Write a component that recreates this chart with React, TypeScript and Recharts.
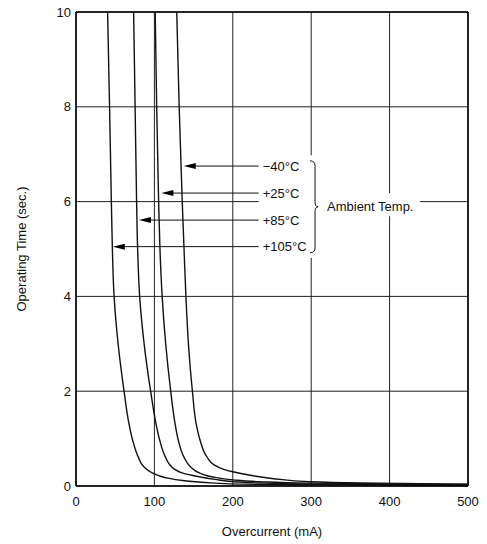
import React from 'react';
import {
  LineChart,
  Line,
  XAxis,
  YAxis,
  CartesianGrid,
  ReferenceLine,
  ReferenceDot,
  ReferenceArea,
} from 'recharts';

// overcurrent (mA) / operating time (sec.) per ambient temperature
const currentM40 = [128.5, 131.6, 135.5, 137.8, 140.2, 143.4, 148.5, 153.4, 158.2, 166.8, 175.7, 188.5, 200, 232, 266.5, 298.4, 362.3, 439, 500];
const timeM40 = [10, 8, 6, 5, 4, 3, 2, 1.3, 0.97, 0.62, 0.45, 0.35, 0.3, 0.2, 0.13, 0.09, 0.065, 0.05, 0.04];

const currentP25 = [101, 102.9, 105.4, 107.1, 109.9, 114.4, 120.8, 126.5, 130.4, 137.4, 145.7, 157.9, 174.5, 200, 234.5, 298.4, 400.6, 500];
const timeP25 = [10, 8, 6, 5, 4, 3, 2, 1.3, 0.97, 0.62, 0.41, 0.27, 0.19, 0.13, 0.09, 0.06, 0.045, 0.035];

const currentP85 = [73.5, 75.4, 77.3, 78.6, 81.2, 86.9, 95.2, 102.2, 106.7, 113.8, 119.5, 125.9, 136.1, 155.3, 177, 202.6, 241, 311, 413, 500];
const timeP85 = [10, 8, 6, 5, 4, 3, 2, 1.3, 0.97, 0.62, 0.45, 0.35, 0.27, 0.2, 0.14, 0.09, 0.06, 0.04, 0.028, 0.02];

const currentP105 = [40.3, 42.8, 45.1, 46.4, 48.6, 53.7, 61.3, 67.7, 72.2, 79.2, 86.3, 97.8, 113.1, 138.7, 177, 209, 298, 500];
const timeP105 = [10, 8, 6, 5, 4, 3, 2, 1.3, 0.97, 0.62, 0.41, 0.27, 0.18, 0.11, 0.06, 0.04, 0.025, 0.015];

const xTicks = [0, 100, 200, 300, 400, 500];
const yTicks = [0, 2, 4, 6, 8, 10];

// annotation: label, y level, arrow tip current
const tempLabels = ['\u221240\u00b0C', '+25\u00b0C', '+85\u00b0C', '+105\u00b0C'];
const tempLevels = [6.75, 6.18, 5.61, 5.05];
const arrowTips = [137.4, 108.9, 80.3, 47];
const arrowEnd = 233;

const toPoints = (xs: number[], ys: number[]) => xs.map((x, i) => ({ x, y: ys[i] }));

const series = [
  { key: 'm40', data: toPoints(currentM40, timeM40) },
  { key: 'p25', data: toPoints(currentP25, timeP25) },
  { key: 'p85', data: toPoints(currentP85, timeP85) },
  { key: 'p105', data: toPoints(currentP105, timeP105) },
];

const FONT = '"Liberation Sans", Arial, sans-serif';
const tickStyle = { fontFamily: FONT, fontSize: 13, fill: '#111' };

const arrowHead = (props: any) => (
  <polygon
    points={`${props.cx},${props.cy} ${props.cx + 12},${props.cy - 3} ${props.cx + 12},${props.cy + 3}`}
    fill="#000"
  />
);

const tempText = (text: string) => (props: any) => (
  <text x={props.cx + 4} y={props.cy} dominantBaseline="central" fontFamily={FONT} fontSize={13} fill="#111">
    {text}
  </text>
);

const brace = (props: any) => {
  const { cx, cy } = props;
  const d = `M ${cx - 8} ${cy - 46} Q ${cx - 3} ${cy - 46} ${cx - 3} ${cy - 41} L ${cx - 3} ${cy - 5} Q ${cx - 3} ${cy} ${cx} ${cy} Q ${cx - 3} ${cy} ${cx - 3} ${cy + 5} L ${cx - 3} ${cy + 41} Q ${cx - 3} ${cy + 46} ${cx - 8} ${cy + 46}`;
  return (
    <g>
      <path d={d} fill="none" stroke="#111" strokeWidth={1} />
      <text x={cx + 9} y={cy} dominantBaseline="central" fontFamily={FONT} fontSize={13} fill="#111">
        Ambient Temp.
      </text>
    </g>
  );
};

const yLabel = (props: any) => {
  const vb = props.viewBox || { x: 0, y: 12, width: 76, height: 474 };
  const cx = 21;
  const cy = vb.y + vb.height / 2;
  return (
    <text x={cx} y={cy} transform={`rotate(-90 ${cx} ${cy})`} textAnchor="middle" dominantBaseline="central"
      fontFamily={FONT} fontSize={13} fill="#111">
      Operating Time (sec.)
    </text>
  );
};

const xLabel = (props: any) => {
  const vb = props.viewBox || { x: 76, y: 486, width: 392, height: 58 };
  return (
    <text x={vb.x + vb.width / 2} y={vb.y + 45.5} textAnchor="middle" dominantBaseline="central"
      fontFamily={FONT} fontSize={13} fill="#111">
      Overcurrent (mA)
    </text>
  );
};

export default function App() {
  return (
    <div style={{ position: 'absolute', left: 0, top: 0, background: '#fff' }}>
      <LineChart width={487} height={544} margin={{ top: 12, right: 19, bottom: 0, left: 0 }}>
        <CartesianGrid stroke="#222" strokeWidth={1} />
        <XAxis
          type="number"
          dataKey="x"
          domain={[0, 500]}
          ticks={xTicks}
          allowDataOverflow
          height={58}
          tick={tickStyle}
          tickLine={false}
          tickSize={0}
          tickMargin={11}
          axisLine={{ stroke: '#000', strokeWidth: 1.5 }}
          label={{ content: xLabel }}
        />
        <YAxis
          type="number"
          dataKey="y"
          domain={[0, 10]}
          ticks={yTicks}
          allowDataOverflow
          width={76}
          tick={tickStyle}
          tickLine={false}
          tickSize={0}
          tickMargin={5}
          axisLine={{ stroke: '#000', strokeWidth: 1.5 }}
          label={{ content: yLabel }}
        />
        <ReferenceLine y={10} stroke="#000" strokeWidth={1.5} />
        <ReferenceLine x={500} stroke="#000" strokeWidth={1.5} />
        <ReferenceArea x1={233} x2={313.8} y1={4.81} y2={6.98} fill="#fff" fillOpacity={1} stroke="none" />
        <ReferenceArea x1={313.8} x2={439} y1={5.69} y2={6.18} fill="#fff" fillOpacity={1} stroke="none" />
        {series.map((s) => (
          <Line
            key={s.key}
            data={s.data}
            dataKey="y"
            type="monotoneY"
            stroke="#111"
            strokeWidth={1.4}
            dot={false}
            isAnimationActive={false}
          />
        ))}
        {tempLabels.map((t, i) => (
          <ReferenceLine
            key={`seg-${i}`}
            segment={[{ x: arrowTips[i] + 8, y: tempLevels[i] }, { x: arrowEnd, y: tempLevels[i] }]}
            stroke="#111"
            strokeWidth={1}
          />
        ))}
        {tempLabels.map((t, i) => (
          <ReferenceDot key={`head-${i}`} x={arrowTips[i]} y={tempLevels[i]} shape={arrowHead} />
        ))}
        {tempLabels.map((t, i) => (
          <ReferenceDot key={`txt-${i}`} x={arrowEnd} y={tempLevels[i]} shape={tempText(t)} />
        ))}
        <ReferenceDot x={308.7} y={5.89} shape={brace} />
      </LineChart>
    </div>
  );
}
